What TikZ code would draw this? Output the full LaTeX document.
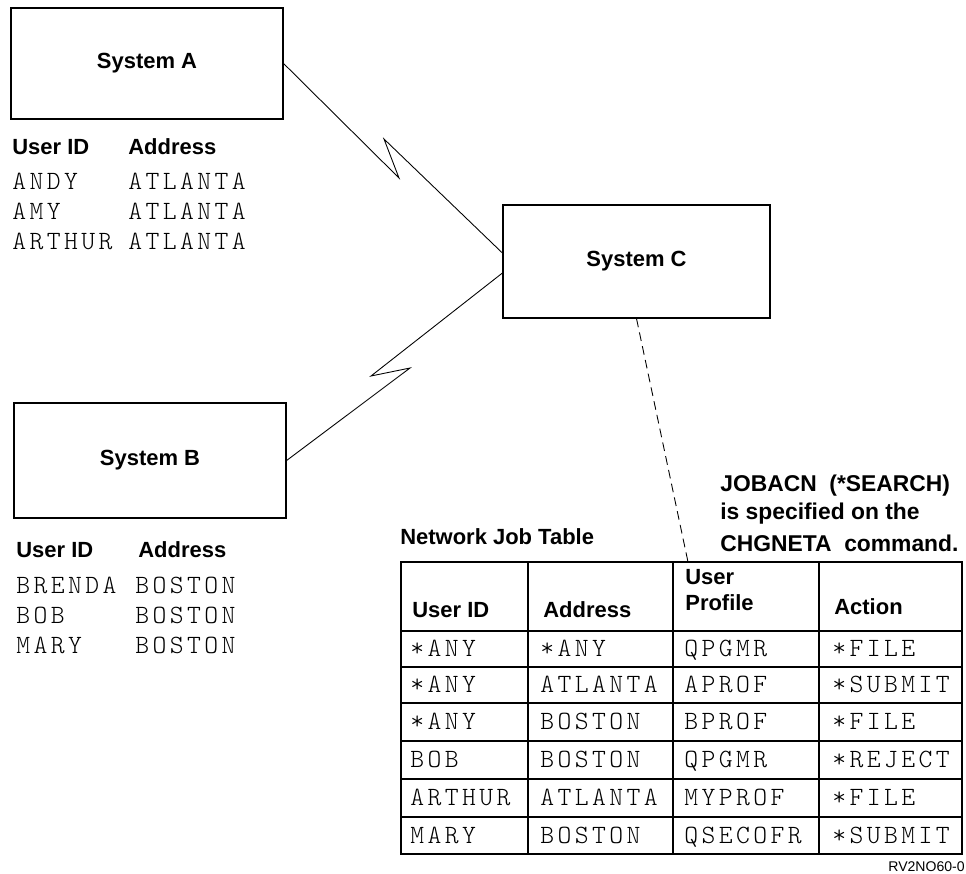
\documentclass[tikz,border=0pt]{standalone}
\usepackage{fontspec}
\setmainfont{Liberation Sans}
\newfontfamily\codefont[LetterSpace=13]{lmmonolt10-regular.otf}
\usepackage{tikz}

\begin{document}
\begin{tikzpicture}[x=0.02cm,y=-0.02cm,
    sysbox/.style={draw,line width=0.7pt,font=\fontsize{12.5}{15}\selectfont\bfseries},
    head/.style={inner sep=0pt,anchor=west,font=\fontsize{12.5}{15}\selectfont\bfseries},
    code/.style={inner sep=0pt,anchor=west,text height=9pt,text depth=0pt,font=\codefont\fontsize{15}{17}\selectfont},
    tbl/.style={line width=0.6pt}]
                \useasboundingbox (0,0) rectangle (966,873);

                % the three systems
                \node[sysbox,minimum width=5.44cm,minimum height=2.22cm] (sysA) at (147,63.5) {System A};
                \node[sysbox,minimum width=5.44cm,minimum height=2.3cm] (sysB) at (150,460.5) {System B};
                \node[sysbox,minimum width=5.34cm,minimum height=2.26cm] (sysC) at (636.5,261.5) {System C};

                % links
                \draw[line width=0.5pt] (sysA.east) -- (399,178) -- (384,139) -- ([yshift=0.17cm]sysC.west);
                \draw[line width=0.5pt] (sysB.east) -- (410,368) -- (371,376) -- ([yshift=-0.23cm]sysC.west);

                % users on system A
                \node[head] (uidA) at (12,147) {User ID};
                \node[head] (adrA) at (128,147) {Address};
                \foreach \y/\u/\a [count=\i] in {182/ANDY/ATLANTA,212/AMY/ATLANTA,242/ARTHUR/ATLANTA}
                {
                    \node[code] (usrA\i) at (12,\y) {\u};
                    \node[code] (locA\i) at (128,\y) {\a};
                }

                % users on system B
                \node[head] (uidB) at (16,550) {User ID};
                \node[head] (adrB) at (138,550) {Address};
                \foreach \y/\u/\a [count=\i] in {586/BRENDA/BOSTON,616/BOB/BOSTON,646/MARY/BOSTON}
                {
                    \node[code] (usrB\i) at (16,\y) {\u};
                    \node[code] (locB\i) at (135,\y) {\a};
                }

                % note
                \node[head,font=\fontsize{13}{16}\selectfont\bfseries] (note1) at (720,486) {JOBACN~~(*SEARCH)};
                \node[head,font=\fontsize{13}{16}\selectfont\bfseries] (note2) at (720,514) {is specified on the};
                \node[head,font=\fontsize{13}{16}\selectfont\bfseries] (note3) at (720,543) {CHGNETA~~command.};

                % network job table
                \node[head] (title) at (400,537) {Network Job Table};
                \draw[tbl] (401,562) rectangle (962,854);
                \foreach \y in {631,667,703,741,779,817}
                    \draw[tbl] (401,\y) -- (962,\y);
                \foreach \x in {528,673,819}
                    \draw[tbl] (\x,562) -- (\x,854);
                \coordinate (tbltop) at (688,562);
                \draw[line width=0.5pt,dash pattern=on 5pt off 3pt] (sysC.south) -- (tbltop);

                \node[head] (hUser) at (412,610) {User ID};
                \node[head] (hAddr) at (543,610) {Address};
                \node[head,align=left] (hProf) at (685,590) {User\\Profile};
                \node[head] (hAct) at (834,607) {Action};
                \foreach \y/\u/\a/\p/\c [count=\i] in {649/*ANY/*ANY/QPGMR/*FILE,
                        685/*ANY/ATLANTA/APROF/*SUBMIT,
                        722/*ANY/BOSTON/BPROF/*FILE,
                        760/BOB/BOSTON/QPGMR/*REJECT,
                        798/ARTHUR/ATLANTA/MYPROF/*FILE,
                        835.5/MARY/BOSTON/QSECOFR/*SUBMIT}
                {
                    \node[code] (tUsr\i) at (410,\y) {\u};
                    \node[code] (tAdr\i) at (540,\y) {\a};
                    \node[code] (tPrf\i) at (684,\y) {\p};
                    \node[code] (tAct\i) at (832,\y) {\c};
                }

                \node[inner sep=0pt,anchor=east,font=\fontsize{8}{9}\selectfont] (figid) at (965,867) {RV2NO60-0};
            \end{tikzpicture}
\end{document}
